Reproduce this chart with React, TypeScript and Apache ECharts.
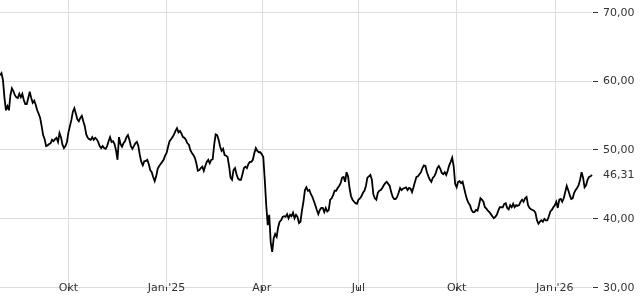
import { useEffect, useRef } from "react";
import * as echarts from "echarts";

const START_DATE = "2024-07-29";
const END_DATE = "2026-02-05";

// one closing value per weekday
const prices = [
  60.8, 61.1, 60.1, 57.5, 55.7, 56.3, 55.7, 57.9, 58.9, 58.5,
  57.9, 57.6, 57.5, 58.1, 57.6, 58.1, 57.2, 56.6, 56.6, 57.5,
  58.4, 57.5, 56.8, 57.1, 56.5, 55.7, 55.2, 54.6, 53.4, 52.1,
  51.5, 50.5, 50.6, 50.8, 50.9, 51.4, 51.2, 51.5, 51.7, 51.1,
  52.4, 51.8, 50.7, 50.2, 50.5, 51.1, 52.5, 53.4, 54.3, 55.5,
  56.0, 55.2, 54.4, 54.1, 54.6, 54.9, 54.1, 53.4, 52.2, 51.7,
  51.5, 51.4, 51.8, 51.4, 51.7, 51.5, 51.1, 50.5, 50.2, 50.5,
  50.2, 50.1, 50.5, 51.2, 51.8, 51.1, 51.2, 50.8, 49.9, 48.5,
  51.8, 50.8, 50.4, 50.9, 51.2, 51.8, 52.1, 51.4, 50.5, 50.1,
  50.5, 50.9, 51.1, 50.5, 49.2, 48.2, 47.7, 48.3, 48.3, 48.5,
  47.9, 47.0, 46.7, 46.0, 45.4, 46.1, 47.2, 47.6, 47.9, 48.2,
  48.5, 49.1, 49.5, 50.4, 51.2, 51.5, 51.8, 52.2, 52.7, 53.1,
  52.5, 52.7, 52.3, 51.8, 51.7, 51.4, 50.9, 50.7, 49.9, 49.5,
  49.2, 48.8, 48.0, 46.9, 47.0, 47.3, 47.5, 46.9, 47.6, 48.2,
  48.5, 48.0, 48.5, 48.6, 50.7, 52.2, 52.1, 51.4, 50.4, 49.8,
  50.1, 49.2, 49.1, 48.9, 47.6, 45.9, 45.6, 47.0, 47.3, 46.4,
  45.8, 45.6, 45.6, 46.4, 47.3, 47.5, 47.3, 47.9, 48.2, 48.2,
  48.5, 49.5, 50.2, 49.8, 49.6, 49.6, 49.3, 48.9, 45.6, 41.9,
  39.0, 40.5, 36.5, 35.1, 37.1, 37.7, 37.3, 38.7, 39.5, 39.7,
  40.2, 40.3, 40.2, 40.6, 40.0, 40.5, 40.3, 40.8, 40.0, 40.5,
  40.2, 39.3, 39.5, 41.1, 42.4, 44.1, 44.5, 44.0, 44.1, 43.5,
  43.1, 42.5, 41.9, 41.2, 40.6, 41.2, 41.5, 41.5, 40.9, 41.5,
  41.0, 41.2, 42.7, 42.9, 43.4, 44.0, 44.0, 44.4, 44.7, 45.1,
  45.9, 46.0, 45.3, 46.7, 46.1, 44.4, 43.2, 42.7, 42.4, 42.2,
  42.1, 42.7, 42.9, 43.2, 43.7, 44.0, 44.7, 45.9, 46.1, 46.3,
  45.6, 43.5, 42.9, 42.7, 43.7, 44.0, 44.1, 44.4, 44.8, 45.1,
  45.3, 45.0, 44.7, 43.8, 43.1, 42.8, 42.8, 43.1, 43.7, 44.4,
  44.1, 44.3, 44.4, 44.5, 44.1, 44.4, 44.3, 43.8, 44.5, 45.3,
  46.0, 46.1, 46.4, 46.7, 47.3, 47.7, 47.6, 46.7, 46.1, 45.6,
  45.3, 45.9, 46.1, 46.6, 47.3, 47.6, 47.2, 46.6, 46.4, 46.7,
  46.3, 46.9, 47.7, 48.2, 48.8, 47.6, 45.0, 44.5, 45.3, 45.4,
  45.1, 45.3, 44.4, 43.5, 42.7, 42.2, 41.9, 41.2, 40.9, 40.9,
  41.2, 41.1, 41.9, 42.9, 42.7, 42.4, 41.6, 41.4, 41.1, 40.9,
  40.6, 40.3, 40.0, 40.2, 40.5, 41.1, 41.6, 41.6, 41.6, 42.1,
  42.2, 41.5, 41.3, 41.9, 41.6, 42.1, 41.6, 41.9, 41.8, 41.9,
  42.4, 42.7, 42.4, 42.9, 43.1, 41.9, 41.5, 41.3, 41.2, 41.1,
  40.8, 39.7, 39.2, 39.5, 39.7, 39.5, 39.9, 39.7, 39.7, 40.3,
  41.0, 41.2, 41.6, 41.9, 42.4, 41.5, 42.7, 42.8, 42.4, 42.9,
  43.8, 44.7, 44.1, 43.4, 42.8, 42.9, 43.7, 44.1, 44.4, 44.8,
  45.6, 46.7, 45.9, 44.5, 44.8, 45.6, 46.0, 46.1, 46.31,
];

const Y_MIN = 30;
const Y_MAX = 70;
const Y_STEP = 10;
const QUARTER_MONTHS: Record<string, string> = { "01": "Jan", "04": "Apr", "07": "Jul", "10": "Okt" };

function buildWeekdays(start: string, end: string): string[] {
  const out: string[] = [];
  const d = new Date(start + "T00:00:00Z");
  const e = new Date(end + "T00:00:00Z");
  while (d.getTime() <= e.getTime()) {
    const wd = d.getUTCDay();
    if (wd !== 0 && wd !== 6) out.push(d.toISOString().slice(0, 10));
    d.setUTCDate(d.getUTCDate() + 1);
  }
  return out;
}

const FONT = "DejaVu Sans";
const TEXT = "#333";
const GRIDC = "#dddddd";

export default function App() {
  const ref = useRef<HTMLDivElement>(null);
  useEffect(() => {
    if (!ref.current) return;
    const chart = echarts.init(ref.current, undefined, { renderer: "svg" });
    const dates = buildWeekdays(START_DATE, END_DATE);
    const quarterIdx = new Set<number>();
    dates.forEach((d, i) => {
      if (i === 0) return;
      const m = d.slice(5, 7);
      if (QUARTER_MONTHS[m] && dates[i - 1].slice(5, 7) !== m) quarterIdx.add(i);
    });
    const isQ = (i: number) => quarterIdx.has(i);
    const fmt = (v: number) => v.toFixed(2).replace(".", ",");
    const n = Math.min(dates.length, prices.length);
    const data = prices.slice(0, n);
    const cats = dates.slice(0, n);

    chart.setOption({
      animation: false,
      grid: [
        { left: 0, right: 48, top: 12, bottom: 13, containLabel: false },
        { left: 0, right: 48, top: 0, bottom: 13, containLabel: false },
      ],
      xAxis: [
        {
          type: "category",
          gridIndex: 0,
          data: cats,
          boundaryGap: false,
          axisLine: { show: false },
          axisTick: { show: false },
          splitLine: { show: false },
          axisLabel: {
            interval: (i: number) => isQ(i),
            formatter: (v: string) => {
              const m = v.slice(5, 7);
              return m === "01" ? `Jan '${v.slice(2, 4)}` : QUARTER_MONTHS[m];
            },
            verticalAlign: "middle",
            margin: 0,
            color: TEXT,
            fontSize: 11,
            fontFamily: FONT,
          },
        },
        {
          type: "category",
          gridIndex: 1,
          data: cats,
          boundaryGap: false,
          offset: 5,
          axisLine: { show: false },
          axisLabel: { show: false },
          axisTick: { show: true, interval: (i: number) => isQ(i), length: 4, lineStyle: { color: TEXT, width: 1 } },
          splitLine: { show: true, interval: (i: number) => isQ(i), lineStyle: { color: GRIDC, width: 1 } },
        },
      ],
      yAxis: [
        {
          type: "value",
          gridIndex: 0,
          position: "right",
          min: Y_MIN,
          max: Y_MAX,
          interval: Y_STEP,
          offset: 1,
          axisLine: { show: false },
          axisTick: { show: true, length: 5, lineStyle: { color: TEXT, width: 1 } },
          splitLine: { show: true, lineStyle: { color: GRIDC, width: 1 } },
          axisLabel: { margin: 10, color: TEXT, fontSize: 11, fontFamily: FONT, formatter: (v: number) => fmt(v) },
        },
        { type: "value", gridIndex: 1, show: false, min: 0, max: 1 },
      ],
      series: [
        {
          type: "line",
          xAxisIndex: 0,
          yAxisIndex: 0,
          data,
          showSymbol: false,
          symbol: "none",
          lineStyle: { color: "#000", width: 1.8, join: "miter" },
          itemStyle: { color: "#000" },
          endLabel: {
            show: true,
            distance: 11,
            color: TEXT,
            fontSize: 11,
            fontFamily: FONT,
            formatter: (p: any) => fmt(Number(p.value)),
          },
        },
      ],
    });
    return () => chart.dispose();
  }, []);
  return <div ref={ref} style={{ position: "fixed", left: 0, top: 0, width: 640, height: 300 }} />;
}
